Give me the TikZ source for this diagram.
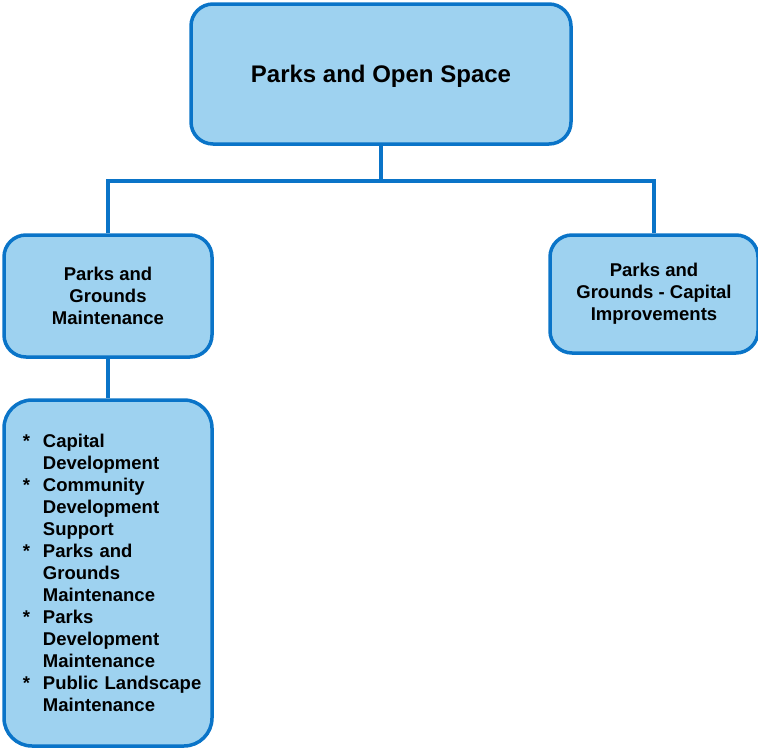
\documentclass[tikz,border=0pt]{standalone}
\usepackage{fontspec}
\setmainfont{Liberation Sans}
\definecolor{boxfill}{RGB}{158,210,240}
\definecolor{boxline}{RGB}{10,116,200}
\newcommand{\bul}{\makebox[35pt][l]{\hspace{15pt}*}}
\newcommand{\cont}{\hspace*{35pt}}
\begin{document}
\begin{tikzpicture}[x=1pt,y=-1pt,
  orgbox/.style={draw=boxline, fill=boxfill, line width=3.5pt, rounded corners=22pt,
    align=center, inner sep=0pt, font=\bfseries\fontsize{18.5}{22}\selectfont},
  link/.style={draw=boxline, line width=3.5pt}]
\useasboundingbox (0,0) rectangle (758,750);

\node[orgbox, minimum width=380pt, minimum height=140pt, text depth=0pt,
  font=\bfseries\fontsize{24}{28}\selectfont]
  (top) at (381,74) {Parks and Open Space};

\node[orgbox, minimum width=208pt, minimum height=122pt] (pgm) at (108,296)
  {Parks and\\Grounds\\Maintenance};

\node[orgbox, minimum width=208pt, minimum height=118pt] (cap) at (654,294)
  {Parks and\\Grounds - Capital\\Improvements};

\node[orgbox, rounded corners=28pt, minimum width=208pt, minimum height=346pt,
  text width=200pt, align=left] (list) at (108,573)
  {\hyphenpenalty=10000
   \bul Capital\\
   \cont Development\\
   \bul Community\\
   \cont Development\\
   \cont Support\\
   \bul Parks and\\
   \cont Grounds\\
   \cont Maintenance\\
   \bul Parks\\
   \cont Development\\
   \cont Maintenance\\
   \bul Public Landscape\\
   \cont Maintenance};

\coordinate (bus) at (381,181);
\draw[link] (top.south) -- (bus);
\draw[link] (pgm.north) |- (bus) -| (cap.north);
\draw[link] (pgm.south) -- (list.north);
\end{tikzpicture}
\end{document}
